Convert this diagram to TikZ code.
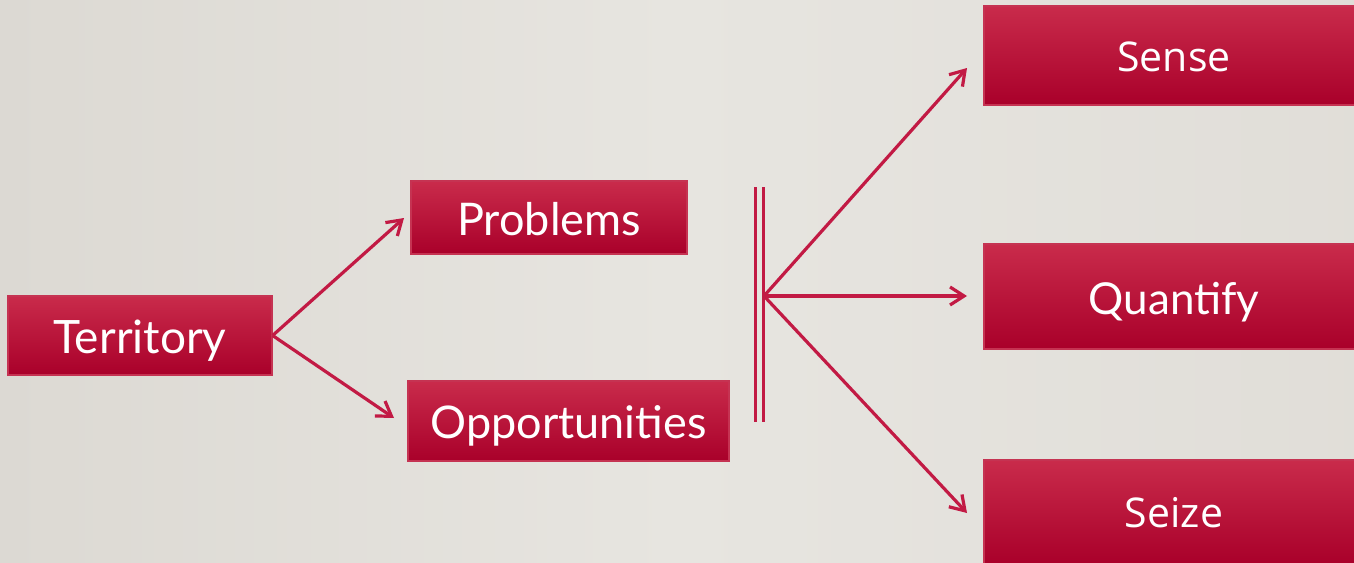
\documentclass[tikz,border=0pt]{standalone}
\usepackage{fontspec}
\setmainfont{Lato}
\newfontfamily\segoe{Open Sans}
\usetikzlibrary{arrows.meta}
\definecolor{bgmid}{HTML}{E7E5E0}
\definecolor{bgedge}{HTML}{DCD9D3}
\definecolor{boxtop}{HTML}{C92B4B}
\definecolor{boxbot}{HTML}{A9002A}
\definecolor{boxedge}{HTML}{C53352}
\definecolor{linec}{HTML}{C21A44}
\tikzset{
  redbox/.style={draw=boxedge, line width=1.2pt, top color=boxtop, bottom color=boxbot,
    text=white, inner sep=0pt, text height=35pt, text depth=0pt, font=\fontsize{46}{50}\selectfont},
  segbox/.style={redbox, text height=31pt, text depth=0pt, font=\segoe\fontsize{41}{44}\selectfont},
  conn/.style={draw=linec, line width=3.2pt, -{Straight Barb[length=14pt,width=18pt,line width=3.2pt]}},
  bar/.style={draw=linec, line width=3pt}
}
\begin{document}
\begin{tikzpicture}[x=1pt,y=-1pt]
\useasboundingbox (0,0) rectangle (1354,562);
\clip (0,0) rectangle (1354,562);
\shade[left color=bgedge, right color=bgmid] (0,0) rectangle (677,562);
\shade[left color=bgmid, right color=bgedge!60!bgmid] (677,0) rectangle (1354,562);
\node[redbox, minimum width=264, minimum height=79] (terr) at (140,335.5) {Territory};
\node[redbox, minimum width=276, minimum height=73, font=\fontsize{45}{50}\selectfont] (prob) at (549,217.5) {Problems};
\node[redbox, minimum width=321, minimum height=80, font=\fontsize{45}{50}\selectfont] (opp) at (568.5,421) {Opportunities};
\node[segbox, minimum width=380, minimum height=99] (sense) at (1174,55.5) {Sense};
\node[redbox, minimum width=380, minimum height=105, font=\fontsize{44}{50}\selectfont] (quant) at (1174,296.5) {Quantify};
\node[segbox, minimum width=380, minimum height=104] (seize) at (1174,512) {Seize};
\coordinate (fan) at (764,296);
\coordinate (bar1t) at (755,187);
\coordinate (bar1b) at (755,422);
\coordinate (bar2t) at (763,187);
\coordinate (bar2b) at (763,422);
\draw[bar] (bar1t) -- (bar1b);
\draw[bar] (bar2t) -- (bar2b);
\coordinate (tprob) at (404,218);
\coordinate (topp) at (394,418);
\coordinate (tsense) at (967,68);
\coordinate (tquant) at (967,296);
\coordinate (tseize) at (967,513);
\draw[conn] (terr.east) -- (tprob);
\draw[conn] (terr.east) -- (topp);
\draw[conn] (fan) -- (tsense);
\draw[conn] (fan) -- (tquant);
\draw[conn] (fan) -- (tseize);
\end{tikzpicture}
\end{document}
